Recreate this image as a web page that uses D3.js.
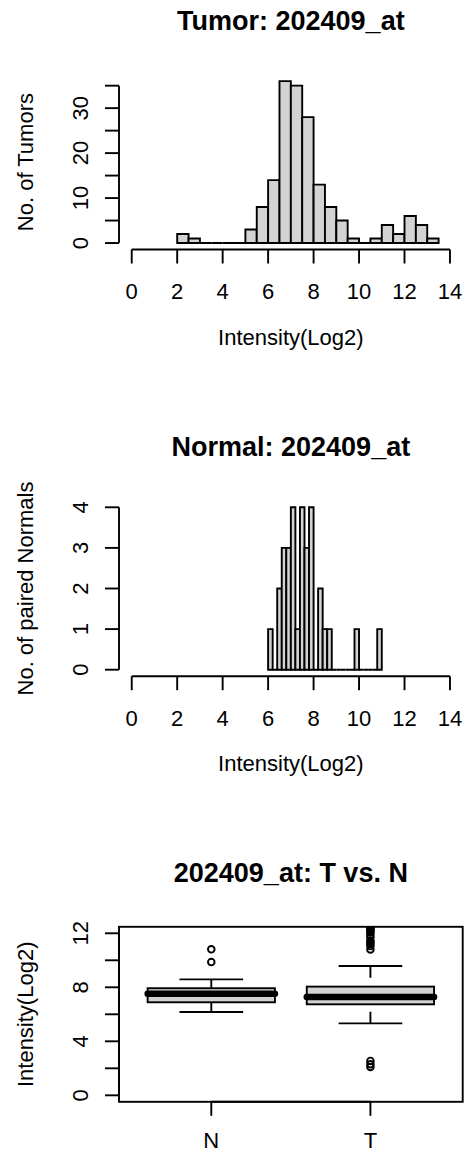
<!DOCTYPE html>
<html><head><meta charset="utf-8">
<script src="https://cdn.jsdelivr.net/npm/d3@7"></script>
<style>body{margin:0;background:#fff} text{font-family:"Liberation Sans",Arial,sans-serif;fill:#000}</style>
</head><body><svg id="c" width="464" height="1154"></svg>
<script>
// ---- data ----
const tumorBinStart = 2.0, tumorBinWidth = 0.5;
const tumorCounts = [2,1,0,0,0,0,3,8,14,36,35,28,13,8,5,1,0,1,4,2,6,4,1];
const normalBinStart = 6.0, normalBinWidth = 0.2;
const normalCounts = [1,0,2,3,3,4,1,4,3,4,0,2,1,1,0,0,0,0,0,1,0,0,0,0,1];
const xTicks = [0,2,4,6,8,10,12,14];
const tumorYTicks = [0,5,10,15,20,25,30,35];
const tumorYLabels = [0,10,20,30];
const normalYTicks = [0,1,2,3,4];
const normalYLabels = [0,1,2,3,4];
const boxGroups = ["N","T"];
const boxLowerWhisker = [6.17, 5.33];
const boxQ1 = [6.89, 6.74];
const boxMedian = [7.53, 7.28];
const boxQ3 = [7.93, 8.05];
const boxUpperWhisker = [8.59, 9.58];
const outliersN = [9.87, 10.81];
const outliersT = [2.1, 2.3, 2.55, 10.8, 11.05, 11.2, 11.35, 11.45, 11.7, 11.85, 12.05, 12.15, 12.25, 12.35, 12.45, 12.6, 12.8, 13.2];
const boxYTicks = [0,2,4,6,8,10,12];
const boxYLabels = [0,4,8,12];

// ---- drawing ----
const svg = d3.select("#c");
svg.append("rect").attr("width",464).attr("height",1154).attr("fill","#fff");
const LW = 1.9, FS = 22, TFS = 27, TICK = 14;
const fill = "#d3d3d3";
const L = 119, R = 462.7;

function title(txt, y){
  svg.append("text").attr("x",(L+R)/2).attr("y",y).attr("text-anchor","middle")
    .attr("font-weight","bold").attr("font-size",TFS).text(txt);
}
function yLabel(txt, cy){
  svg.append("text").attr("transform",`translate(33,${cy}) rotate(-90)`)
    .attr("text-anchor","middle").attr("font-size",FS).text(txt);
}
function yAxis(y, ticks, labels){
  const g = svg.append("g");
  g.append("line").attr("x1",L).attr("x2",L).attr("y1",y(d3.min(ticks))).attr("y2",y(d3.max(ticks)))
    .attr("stroke","#000").attr("stroke-width",LW);
  g.selectAll("line.t").data(ticks).join("line").attr("class","t")
    .attr("x1",L-TICK).attr("x2",L).attr("y1",d=>y(d)).attr("y2",d=>y(d))
    .attr("stroke","#000").attr("stroke-width",LW);
  g.selectAll("text").data(labels).join("text")
    .attr("transform",d=>`translate(${L-31},${y(d)}) rotate(-90)`)
    .attr("text-anchor","middle").attr("font-size",FS).text(d=>d);
}
function xAxis(x, ticks, yPos, labelFn, off){
  const g = svg.append("g");
  g.append("line").attr("x1",x(d3.min(ticks))).attr("x2",x(d3.max(ticks))).attr("y1",yPos).attr("y2",yPos)
    .attr("stroke","#000").attr("stroke-width",LW);
  g.selectAll("line.t").data(ticks).join("line").attr("class","t")
    .attr("x1",d=>x(d)).attr("x2",d=>x(d)).attr("y1",yPos).attr("y2",yPos+TICK)
    .attr("stroke","#000").attr("stroke-width",LW);
  g.selectAll("text").data(ticks).join("text")
    .attr("x",d=>x(d)).attr("y",yPos+off).attr("text-anchor","middle").attr("font-size",FS).text(labelFn);
}
function hist(counts, start, width, top, bottom, ymax, ticks, labels, ttl, ylab, titleY){
  const x = d3.scaleLinear().domain([-0.56,14.56]).range([L,R]);
  const ext = ymax*0.04;
  const y = d3.scaleLinear().domain([-ext, ymax+ext]).range([bottom, top]);
  title(ttl, titleY);
  svg.append("g").selectAll("path").data(counts).join("path")
    .attr("d",(c,i)=>{
      const x0 = x(start+i*width), x1 = x(start+(i+1)*width), y0 = y(0), y1 = y(c);
      return `M${x0},${y0}V${y1}H${x1}V${y0}Z`;
    })
    .attr("fill",fill).attr("stroke","#000").attr("stroke-width",LW).attr("stroke-linejoin","miter");
  yAxis(y, ticks, labels);
  xAxis(x, xTicks, bottom, d=>d, 49.5);
  svg.append("text").attr("x",(L+R)/2).attr("y",bottom+95).attr("text-anchor","middle")
    .attr("font-size",FS).text("Intensity(Log2)");
  yLabel(ylab, (top+bottom)/2);
}

hist(tumorCounts, tumorBinStart, tumorBinWidth, 74.7, 249.5, 36, tumorYTicks, tumorYLabels,
     "Tumor: 202409_at", "No. of Tumors", 29.6);
hist(normalCounts, normalBinStart, normalBinWidth, 500.8, 676.2, 4, normalYTicks, normalYLabels,
     "Normal: 202409_at", "No. of paired Normals", 455.7);

// ---- boxplot ----
const bTop = 926.8, bBot = 1101.8;
const bx = d3.scaleLinear().domain([0.42,2.58]).range([L,R]);
const by = d3.scaleLinear().domain([-0.48,12.48]).range([bBot,bTop]);
title("202409_at: T vs. N", 881.7);
svg.append("clipPath").attr("id","bclip").append("rect")
  .attr("x",L).attr("y",bTop).attr("width",R-L).attr("height",bBot-bTop);
const bg = svg.append("g").attr("clip-path","url(#bclip)");
const bw = 0.4, sw = 0.2;
boxGroups.forEach((gname,i)=>{
  const c = i+1;
  [[boxLowerWhisker[i], boxQ1[i]],[boxUpperWhisker[i], boxQ3[i]]].forEach(([a,b])=>{
    bg.append("line").attr("x1",bx(c)).attr("x2",bx(c)).attr("y1",by(a)).attr("y2",by(b))
      .attr("stroke","#000").attr("stroke-width",LW).attr("stroke-dasharray","11.7,11.7");
    bg.append("line").attr("x1",bx(c-sw)).attr("x2",bx(c+sw)).attr("y1",by(a)).attr("y2",by(a))
      .attr("stroke","#000").attr("stroke-width",LW);
  });
  bg.append("rect").attr("x",bx(c-bw)).attr("width",bx(c+bw)-bx(c-bw))
    .attr("y",by(boxQ3[i])).attr("height",by(boxQ1[i])-by(boxQ3[i]))
    .attr("fill",fill).attr("stroke","#000").attr("stroke-width",LW);
  bg.append("line").attr("x1",bx(c-bw)).attr("x2",bx(c+bw)).attr("y1",by(boxMedian[i])).attr("y2",by(boxMedian[i]))
    .attr("stroke","#000").attr("stroke-width",6.5).attr("stroke-linecap","round");
  const outs = i===0 ? outliersN : outliersT;
  bg.selectAll(null).data(outs).join("circle")
    .attr("cx",bx(c)).attr("cy",d=>by(d)).attr("r",3.3)
    .attr("fill","none").attr("stroke","#000").attr("stroke-width",LW);
});
svg.append("rect").attr("x",L).attr("y",bTop).attr("width",R-L).attr("height",bBot-bTop)
  .attr("fill","none").attr("stroke","#000").attr("stroke-width",LW);
yAxis(by, boxYTicks, boxYLabels);
xAxis(bx, [1,2], bBot, (d)=>boxGroups[d-1], 46.5);
yLabel("Intensity(Log2)", (bTop+bBot)/2);
</script></body></html>
